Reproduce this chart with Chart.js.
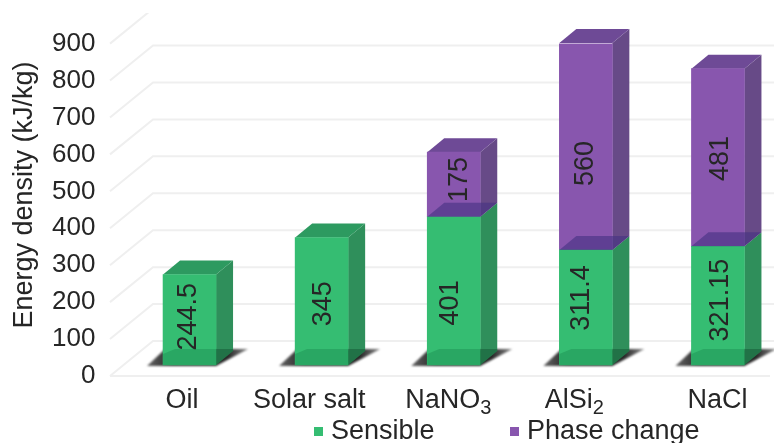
<!doctype html>
<html>
<head>
<meta charset="utf-8">
<title>Energy density</title>
<script src="https://cdn.jsdelivr.net/npm/chart.js@4/dist/chart.umd.min.js"></script>
<style>
  html, body { margin:0; padding:0; background:#fff; overflow:hidden; }
  canvas { display:block; }
</style>
</head>
<body>
<!-- last column's shadow runs past the window edge, so the canvas is a bit wider -->
<canvas id="chart" width="784" height="443"></canvas>
<script>
// Chart values
const categories = ['Oil', 'Solar salt', 'NaNO\u2083', 'AlSi\u2082', 'NaCl'];
const sensible = [244.5, 345, 401, 311.4, 321.15];
const phaseChange = [null, null, 175, 560, 481];
const seriesNames = ['Sensible', 'Phase change'];
const axisTitle = 'Energy density (kJ/kg)';

// Look of the extruded columns
const FONT = '"Liberation Sans", Arial, sans-serif';
const TEXT = '#262626';
const faces = [
  { front:'#35bd72', side:'#2f8f5b', top:'#2d9a60' },
  { front:'#8856ae', side:'#674a87', top:'#6e4a96' }
];
const DEPTH_X = 17, DEPTH_Y = 14;

// hand placement of the labels, per category
const catLabelShift = [-7.5, -12.5, -5.5, -11.5, -0.5];
const valueLabelShift = [
  [[-1.5,-3], [1.5,2.5], [-3.5,12], [-4.5,-9.5], [2.5,-5.5]],
  [null, null, [5.5,-5], [0,17], [2.5,1]]
];

function poly(ctx, pts, fill){
  ctx.beginPath();
  pts.forEach((p,i)=> i ? ctx.lineTo(p[0],p[1]) : ctx.moveTo(p[0],p[1]));
  ctx.closePath();
  ctx.fillStyle = fill;
  ctx.fill();
}

// Back wall and floor, drawn off the value axis ticks
const wallGrid = {
  id:'wallGrid',
  beforeDatasetsDraw(chart){
    const ctx = chart.ctx, y = chart.scales.y;
    const x0 = 110, x1 = 153, rise = 35;
    ctx.save();
    ctx.beginPath(); ctx.rect(0,13,774,430); ctx.clip();
    ctx.strokeStyle = '#efefef';
    ctx.lineWidth = 2;
    y.ticks.forEach(t=>{
      const py = y.getPixelForValue(t.value);
      ctx.beginPath();
      ctx.moveTo(x0,py); ctx.lineTo(x1,py-rise);
      if(py-rise>13) ctx.lineTo(774,py-rise);
      ctx.stroke();
    });
    const py0 = y.getPixelForValue(0);
    ctx.beginPath(); ctx.moveTo(x0,py0); ctx.lineTo(770,py0); ctx.stroke();
    ctx.restore();
  }
};

// Sides, tops and floor shadow go behind the native bars, seams and labels in front
const columns = {
  id:'columns',
  beforeDatasetsDraw(chart){
    const ctx = chart.ctx;
    const lower = chart.getDatasetMeta(0).data;
    const upper = chart.getDatasetMeta(1).data;
    ctx.save();
    lower.forEach(el=>{
      const l = el.x-el.width/2, r = el.x+el.width/2, b = el.base;
      const g = ctx.createLinearGradient(l-16,0,r+32,0);
      g.addColorStop(0,'rgba(60,60,60,.8)');
      g.addColorStop(.25,'rgba(35,35,35,1)');
      g.addColorStop(.8,'rgba(40,40,40,1)');
      g.addColorStop(1,'rgba(90,90,90,.75)');
      ctx.filter = 'blur(0.8px)';
      poly(ctx, [[l-16,b+1],[l+2,b-16],[r+32,b-16],[r,b+1]], g);
      ctx.filter = 'none';
    });
    [lower, upper].forEach((els,ds)=>{
      els.forEach((el,i)=>{
        const val = chart.data.datasets[ds].data[i];
        if(val==null) return;
        const r = el.x+el.width/2;
        poly(ctx, [[r,el.y],[r+DEPTH_X,el.y-DEPTH_Y],[r+DEPTH_X,el.base-DEPTH_Y],[r,el.base]], faces[ds].side);
      });
    });
    lower.forEach((el,i)=>{
      const hasUpper = chart.data.datasets[1].data[i]!=null;
      const seg = hasUpper ? upper[i] : el;
      const f = faces[hasUpper?1:0];
      const l = seg.x-seg.width/2, r = seg.x+seg.width/2;
      poly(ctx, [[l,seg.y],[l+DEPTH_X,seg.y-DEPTH_Y],[r+DEPTH_X,seg.y-DEPTH_Y],[r,seg.y]], f.top);
    });
    ctx.restore();
  },
  afterDatasetsDraw(chart){
    const ctx = chart.ctx;
    const lower = chart.getDatasetMeta(0).data;
    ctx.save();
    lower.forEach((el,i)=>{
      const l = el.x-el.width/2, r = el.x+el.width/2, b = el.base;
      // darker foot of the column
      poly(ctx, [[l,b],[l,b-11],[l+12,b-16],[r,b-16],[r,b]], 'rgba(0,90,45,.22)');
      poly(ctx, [[r,b],[r,b-16],[r+DEPTH_X,b-16],[r+DEPTH_X,b-DEPTH_Y]], 'rgba(0,40,20,.28)');
      // seam where the two segments meet
      if(chart.data.datasets[1].data[i]!=null){
        poly(ctx, [[l,el.y],[l+DEPTH_X,el.y-DEPTH_Y],[r+DEPTH_X,el.y-DEPTH_Y],[r,el.y]], 'rgba(70,50,130,.62)');
      }
    });
    // value labels, read straight from the datasets
    ctx.font = '27px '+FONT;
    ctx.fillStyle = TEXT;
    ctx.textAlign = 'center';
    ctx.textBaseline = 'middle';
    chart.data.datasets.forEach((ds,d)=>{
      chart.getDatasetMeta(d).data.forEach((el,i)=>{
        const val = ds.data[i];
        if(val==null) return;
        const s = valueLabelShift[d][i];
        ctx.save();
        ctx.translate(el.x+s[0], (el.y+el.base)/2+s[1]);
        ctx.rotate(-Math.PI/2);
        ctx.fillText(String(val),0,0);
        ctx.restore();
      });
    });
    ctx.restore();
  }
};

// Axis captions with subscripts, axis title and legend
const captions = {
  id:'captions',
  afterDraw(chart){
    const ctx = chart.ctx, xs = chart.scales.x;
    const subs = { '\u2082':'2', '\u2083':'3' };
    ctx.save();
    ctx.fillStyle = TEXT;
    ctx.textBaseline = 'alphabetic';
    ctx.textAlign = 'left';
    categories.forEach((name,i)=>{
      const m = name.match(/^([^\u2082\u2083]*)([\u2082\u2083]?)$/);
      ctx.font = '27px '+FONT;
      const w1 = ctx.measureText(m[1]).width;
      const sub = m[2] ? subs[m[2]] : '';
      ctx.font = '20px '+FONT;
      const w2 = sub ? ctx.measureText(sub).width : 0;
      const left = xs.getPixelForTick(i)+catLabelShift[i]-(w1+w2)/2;
      ctx.font = '27px '+FONT;
      ctx.fillText(m[1],left,408);
      if(sub){
        ctx.font = '20px '+FONT;
        ctx.fillText(sub,left+w1,414);
      }
    });

    ctx.font = '27px '+FONT;
    ctx.textAlign = 'center';
    ctx.save();
    ctx.translate(32,195);
    ctx.rotate(-Math.PI/2);
    ctx.fillText(axisTitle,0,0);
    ctx.restore();

    const legendX = [314,510];
    ctx.font = '27px '+FONT;
    ctx.textAlign = 'left';
    chart.data.datasets.forEach((ds,d)=>{
      ctx.fillStyle = ds.backgroundColor;
      ctx.fillRect(legendX[d],427,9,9);
      ctx.fillStyle = TEXT;
      ctx.fillText(ds.label,legendX[d]+17,439);
    });
    ctx.restore();
  }
};

new Chart(document.getElementById('chart'), {
  type:'bar',
  data:{
    labels:categories,
    datasets:[
      { label:seriesNames[0], data:sensible, backgroundColor:faces[0].front, yAxisID:'barAxis', barThickness:53, borderWidth:0 },
      { label:seriesNames[1], data:phaseChange, backgroundColor:faces[1].front, yAxisID:'barAxis', barThickness:53, borderWidth:0 }
    ]
  },
  plugins:[wallGrid, columns, captions],
  options:{
    responsive:false,
    animation:false,
    layout:{ padding:{ top:43, right:0, left:0, bottom:0 } },
    plugins:{ legend:{ display:false }, tooltip:{ enabled:false } },
    scales:{
      x:{
        stacked:true,
        grid:{ display:false },
        border:{ display:false },
        ticks:{ display:false },
        afterFit(scale){ scale.height = 67; }
      },
      y:{
        position:'left',
        min:0, max:900,
        grid:{ display:false, drawTicks:false },
        border:{ display:false },
        ticks:{ stepSize:100, padding:28, color:TEXT, font:{ family:FONT, size:26 } },
        afterFit(scale){ scale.width = 123.5; }
      },
      // columns stand a little forward of the labelled zero line
      barAxis:{
        display:false,
        stacked:true,
        min:-30, max:870
      }
    }
  }
});
</script>
</body>
</html>
